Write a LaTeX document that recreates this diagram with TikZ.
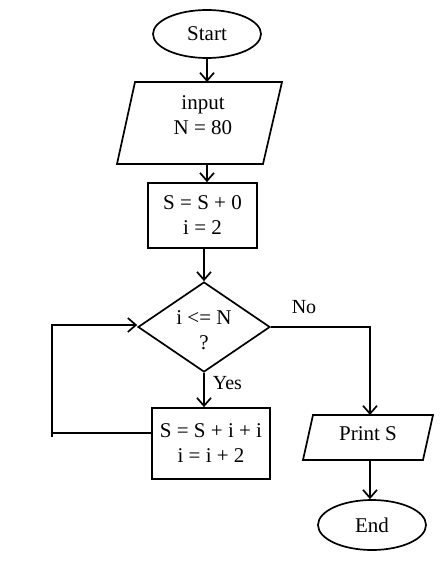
\documentclass[tikz,border=0pt]{standalone}
\usepackage{fontspec}
\setmainfont{Liberation Serif}
\usetikzlibrary{shapes.geometric,arrows.meta}
\begin{document}
\begin{tikzpicture}[x=1pt,y=-1pt,
  line width=1.7pt,
  every node/.style={font=\fontsize{21}{25}\selectfont, align=center},
  term/.style={draw, ellipse, minimum width=108pt, minimum height=48pt, inner sep=0pt},
  proc/.style={draw, rectangle, inner sep=0pt},
  dec/.style={draw, diamond, inner sep=0pt, minimum width=132pt, minimum height=90pt, aspect=1.47},
  arr/.style={-{Straight Barb[length=8pt,width=14pt]}},
  lbl/.style={font=\fontsize{20}{22}\selectfont, inner sep=0pt}
]
\useasboundingbox (0,0) rectangle (440,575);

% Start
\node[term] (start) at (207,34) {Start};

% input parallelogram
\draw (135,82) -- (282,82) -- (263,164) -- (117,164) -- cycle;
\coordinate (inTop) at (207,82);
\coordinate (inBot) at (207,164);
\node (input) at (203,115) {input\\N = 80};

% init box
\node[proc, minimum width=109pt, minimum height=65pt] (init) at (202.5,215.5) {S = S + 0\\i = 2};

% decision
\node[dec] (dec) at (204,327) {};
\node (dectext) at (204,330) {i <= N\\?};

% loop body
\node[proc, minimum width=118pt, minimum height=71pt] (body) at (211,443.5) {S = S + i + i\\i = i + 2};

% print parallelogram
\draw (313,415) -- (433,415) -- (423,460) -- (303,460) -- cycle;
\coordinate (prTop) at (370,415);
\coordinate (prBot) at (370,460);
\node (print) at (368,434) {Print S};

% End
\node[term, minimum height=50pt] (stop) at (372,525) {End};

% connectors
\draw[arr] (start) -- (inTop);
\draw[arr] (inBot) -- (inBot |- init.north);
\draw[arr] (init.south -| dec.north) -- (dec.north);
\draw[arr] (dec.south) -- (dec.south |- body.north);
\node[lbl, anchor=west] (yes) at (212,383) {Yes};

\coordinate (loopA) at (52,433);
\coordinate (loopB) at (52,437);
\coordinate (loopC) at (52,325);
\draw (body.west |- loopA) -- (loopA);
\draw[arr] (loopB) -- (loopC) -- (loopC -| dec.west);

\coordinate (noC) at (370,327);
\draw[arr] (dec.east) -- (noC) -- (prTop);
\node[lbl] (no) at (304,307) {No};

\draw[arr] (prBot) -- (prBot |- stop.north);
\end{tikzpicture}
\end{document}
